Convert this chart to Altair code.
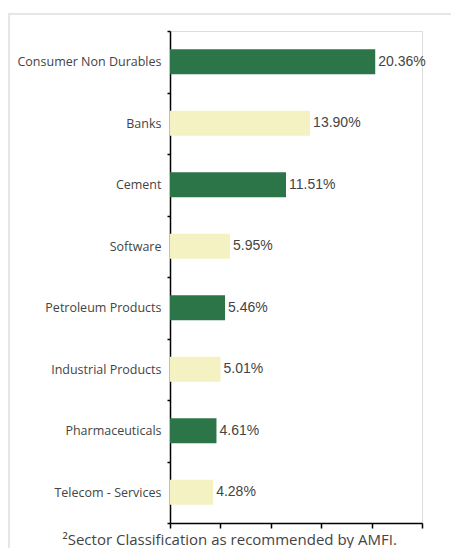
import altair as alt
import pandas as pd

sectors = ["Consumer Non Durables", "Banks", "Cement", "Software",
           "Petroleum Products", "Industrial Products", "Pharmaceuticals",
           "Telecom - Services"]
weights = [20.36, 13.90, 11.51, 5.95, 5.46, 5.01, 4.61, 4.28]
labels = ["20.36%", "13.90%", "11.51%", "5.95%", "5.46%", "5.01%", "4.61%", "4.28%"]
shade = ["dark", "light", "dark", "light", "dark", "light", "dark", "light"]
footnote = "²Sector Classification as recommended by AMFI."

df = pd.DataFrame({"sector": sectors, "weight": weights, "label": labels, "shade": shade})

x_enc = alt.X("weight:Q",
              scale=alt.Scale(domain=[0, 25], nice=False),
              axis=alt.Axis(values=[0, 5, 10, 15, 20, 25], labels=False, grid=False,
                            domainColor="#000", domainWidth=1.5, tickColor="#000",
                            tickWidth=1.5, tickSize=5, title=footnote,
                            titleFont="Open Sans", titleFontSize=15,
                            titleFontWeight="normal", titleColor="#444",
                            titleAnchor="start", titleAlign="left",
                            titleBaseline="alphabetic", titleX=-108, titleY=21))
y_enc = alt.Y("sector:N", sort=sectors,
              scale=alt.Scale(paddingInner=0, paddingOuter=0),
              axis=alt.Axis(title=None, tickBand="extent", domainColor="#000",
                            domainWidth=1.5, tickColor="#000", tickWidth=1.5,
                            tickSize=3, labelPadding=6, labelFont="Open Sans",
                            labelFontSize=12.5, labelColor="#444", labelLimit=200))

bars = alt.Chart(df).mark_bar(size=25).encode(
    x=x_enc, y=y_enc,
    color=alt.Color("shade:N", scale=alt.Scale(domain=["dark", "light"],
                                               range=["#2C7548", "#F4F2C3"]),
                    legend=None))

text = alt.Chart(df).mark_text(align="left", baseline="middle", dx=3,
                               font="Liberation Sans", fontSize=14,
                               color="#444").encode(
    x="weight:Q", y=alt.Y("sector:N", sort=sectors), text="label:N")

frame_df = pd.DataFrame({"k": [1]})
top_line = alt.Chart(frame_df).mark_rule(color="#E6E6E6", strokeWidth=2).encode(
    x=alt.value(-162), x2=alt.value(281), y=alt.value(-17))
left_line = alt.Chart(frame_df).mark_rule(color="#E6E6E6", strokeWidth=2).encode(
    x=alt.value(-161), y=alt.value(-17), y2=alt.value(530))

chart = alt.layer(top_line, left_line, bars, text).properties(
    width=252, height=492,
    autosize=alt.AutoSizeParams(type="none"),
    padding={"left": 162, "top": 23, "right": 29, "bottom": 26},
).configure_view(stroke=None).configure(background="white")

chart.save("out.html", embed_options={"renderer": "svg", "actions": False})
